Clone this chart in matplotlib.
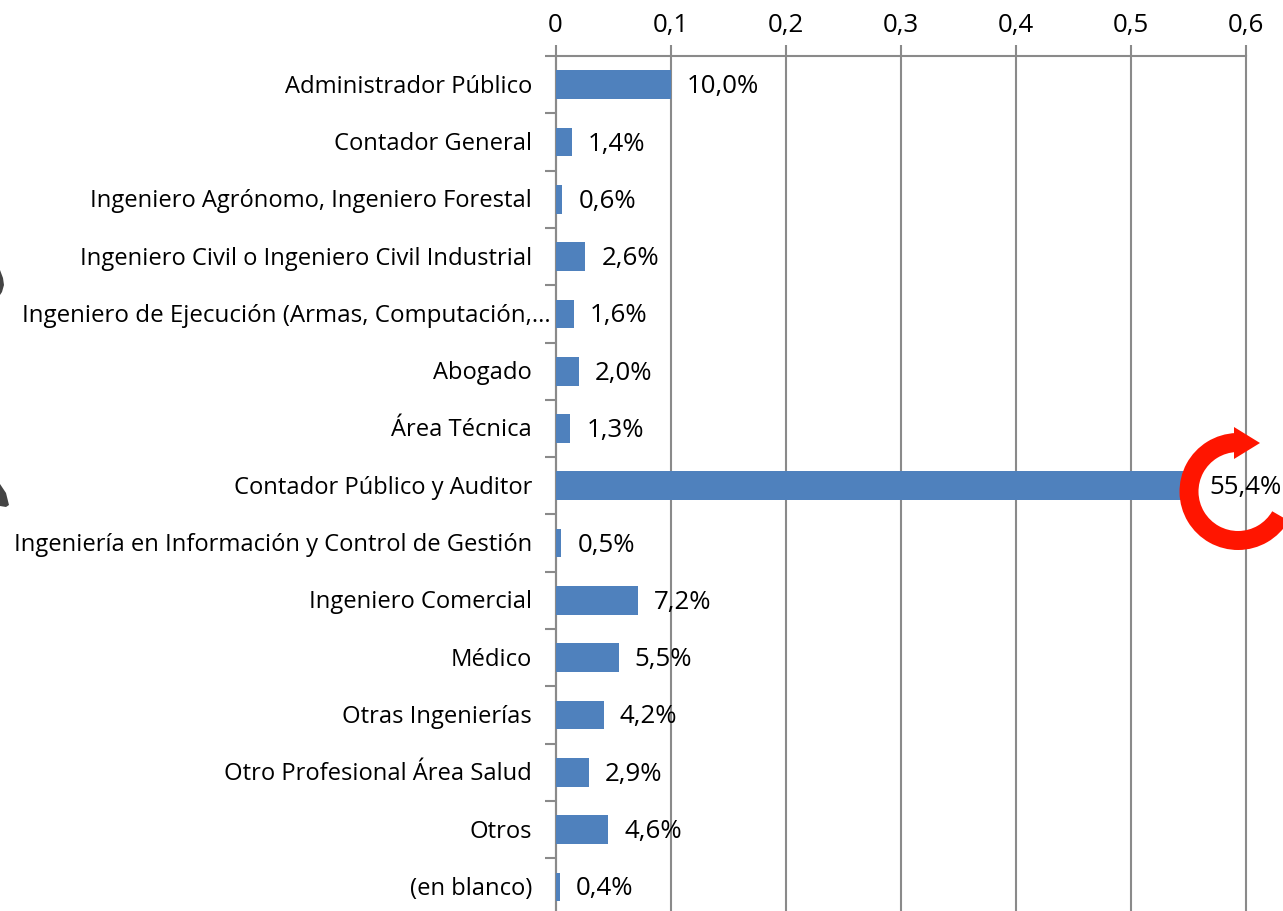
import numpy as np
import matplotlib
matplotlib.use("Agg")
import matplotlib.pyplot as plt
from matplotlib.patches import Wedge, Polygon
from matplotlib.transforms import ScaledTranslation

categories = ["Administrador Público", "Contador General", "Ingeniero Agrónomo, Ingeniero Forestal",
              "Ingeniero Civil o Ingeniero Civil Industrial", "Ingeniero de Ejecución (Armas, Computación,...",
              "Abogado", "Área Técnica", "Contador Público y Auditor",
              "Ingeniería en Información y Control de Gestión", "Ingeniero Comercial", "Médico",
              "Otras Ingenierías", "Otro Profesional Área Salud", "Otros", "(en blanco)"]
values = [0.100, 0.014, 0.006, 0.026, 0.016, 0.020, 0.013, 0.554, 0.005, 0.072, 0.055, 0.042, 0.029, 0.046, 0.004]
labels = ["10,0%", "1,4%", "0,6%", "2,6%", "1,6%", "2,0%", "1,3%", "55,4%", "0,5%", "7,2%", "5,5%", "4,2%", "2,9%", "4,6%", "0,4%"]
xticks = [0, 0.1, 0.2, 0.3, 0.4, 0.5, 0.6]
xticklabels = ["0", "0,1", "0,2", "0,3", "0,4", "0,5", "0,6"]

W, H = 1283, 911
plt.rcParams['font.family'] = ['Open Sans', 'DejaVu Sans']
FS = 17.1
FS_NUM = 18.6
GRAY = '#8a8a8a'
RED = '#ff1500'
fig = plt.figure(figsize=(W/100, H/100), dpi=100)
x0, x1, ytop = 555.5, 1246, 56
yc, step = 84.7, 57.3
ax = fig.add_axes([x0/W, 0, (x1-x0)/W, (H-ytop)/H])
ax.set_xlim(0, 0.6)
ax.set_ylim((H-yc)/step, (ytop-yc)/step)
ypos = np.arange(len(categories))
ax.barh(ypos, values, height=0.5, color='#4f81bd', zorder=3)
ax.set_axisbelow(True)
ax.xaxis.grid(True, color=GRAY, lw=1.5, zorder=1, clip_on=False)
ax.yaxis.grid(False)
for s in ['right', 'bottom']:
    ax.spines[s].set_visible(False)
for s in ['top', 'left']:
    ax.spines[s].set_color(GRAY)
    ax.spines[s].set_linewidth(1.5)
    ax.spines[s].set_zorder(2)
ax.xaxis.tick_top()
ax.set_xticks(xticks)
ax.set_xticklabels(xticklabels, fontsize=FS_NUM)
ax.tick_params(axis='x', length=8, width=1.5, color=GRAY, pad=5, labelcolor='black')
for g in ax.get_xgridlines():
    g.set_clip_on(False)
ax.set_yticks(np.arange(-0.5, len(categories)-0.5))
ax.set_yticklabels([])
ax.tick_params(axis='y', which='major', length=8, width=1.5, color=GRAY)
ax.set_yticks(ypos, minor=True)
ax.set_yticklabels(categories, minor=True, fontsize=FS)
ax.tick_params(axis='y', which='minor', length=0, pad=17, labelcolor='black')
lab = ax.get_yticklabels(minor=True)
for i, t in enumerate(lab):
    dx = 0
    if categories[i].endswith('...'):
        dx = 19
        t.set_fontsize(17.4)
    t.set_transform(t.get_transform() + ScaledTranslation(dx/100, 1/100, fig.dpi_scale_trans))

# Red circular arrow and gray clipped picture fragments, in pixel coordinates
ax2 = fig.add_axes([0, 0, 1, 1], zorder=4)
ax2.set_xlim(0, W); ax2.set_ylim(H, 0); ax2.axis('off'); ax2.patch.set_alpha(0)
ax2.add_patch(Wedge((1238, 491.5), 58.5, 30, 268, width=19, color=RED, lw=0))
ax2.add_patch(Polygon([(1234, 427), (1260, 443), (1234, 459)], closed=True, color=RED, lw=0))
ax2.add_patch(Polygon([(0, 270), (3, 278), (4, 285), (2, 292), (0, 295)], closed=True, color='#444444', lw=0))
ax2.add_patch(Polygon([(0, 484), (6, 493), (9, 505), (6, 507), (0, 506)], closed=True, color='#444444', lw=0))

for y, v, t in zip(ypos, values, labels):
    ax2.text(x0 + v*(x1-x0)/0.6 + 16, yc + y*step + 2, t, fontsize=FS_NUM, ha='left', va='center', color='black')

fig.savefig('out.png', dpi=100)
